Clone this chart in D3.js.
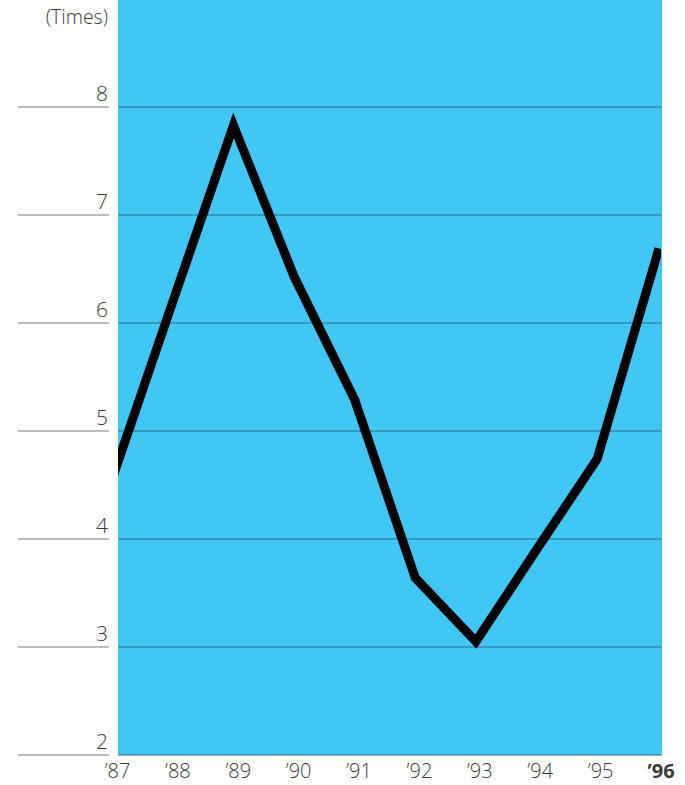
<!DOCTYPE html>
<html>
<head>
<meta charset="utf-8">
<script src="https://cdn.jsdelivr.net/npm/d3@7"></script>
<style>
  html, body { margin: 0; padding: 0; background: #fff; }
  svg { display: block; }
  text { font-family: "Open Sans", "Noto Sans", sans-serif; fill: #3a3a3a; }
</style>
</head>
<body>
<svg id="chart" width="685" height="785"></svg>
<script>
// Interest coverage (times), fiscal years '87–'96
const years = ["'87", "'88", "'89", "'90", "'91", "'92", "'93", "'94", "'95", "'96"];
const values = [4.56, 6.2, 7.83, 6.43, 5.29, 3.64, 3.05, 3.9, 4.74, 6.65];
const yTicks = [2, 3, 4, 5, 6, 7, 8];
const unitLabel = "(Times)";

const svg = d3.select("#chart");
const plotLeft = 118, plotRight = 662, plotTop = 0, plotBottom = 755;

// Line vertices run a little wider than the panel; labels sit under the panel
const x = d3.scalePoint().domain(years).range([112.3, 657.7]);
const xLabel = d3.scalePoint().domain(years).range([117.5, 661]);
const y = d3.scaleLinear().domain([2, 8]).range([plotBottom, 107]);

// Blue panel
svg.append("rect")
  .attr("x", plotLeft).attr("y", plotTop)
  .attr("width", plotRight - plotLeft).attr("height", plotBottom - plotTop)
  .attr("fill", "#40c7f4");

// Gridlines: grey stubs beside the labels, darker lines across the panel
const grid = svg.append("g");
yTicks.forEach(t => {
  grid.append("line")
    .attr("x1", 18).attr("x2", 109)
    .attr("y1", y(t)).attr("y2", y(t))
    .attr("stroke", "#7a7a7a").attr("stroke-width", 1.2);
  grid.append("line")
    .attr("x1", plotLeft).attr("x2", plotRight)
    .attr("y1", y(t)).attr("y2", y(t))
    .attr("stroke", "#2f6f88").attr("stroke-width", 1.2);
});

// Y tick labels sit just above their gridlines
svg.append("g").selectAll("text")
  .data(yTicks)
  .join("text")
  .attr("x", 108)
  .attr("y", d => y(d) - 6)
  .attr("text-anchor", "end")
  .attr("font-size", 21)
  .attr("font-weight", 300)
  .text(d => d);

svg.append("text")
  .attr("x", 108).attr("y", 24)
  .attr("text-anchor", "end")
  .attr("font-size", 19.5)
  .attr("font-weight", 300)
  .text(unitLabel);

// X labels; the latest year is set in bold
svg.append("g").selectAll("text")
  .data(years)
  .join("text")
  .attr("x", d => xLabel(d))
  .attr("y", 778)
  .attr("text-anchor", "middle")
  .attr("font-size", 20)
  .attr("font-weight", d => d === "'96" ? 700 : 300)
  .attr("fill", d => d === "'96" ? "#111" : "#3a3a3a")
  .text(d => d.replace("'", "\u2019"));

// Line, clipped to the panel
svg.append("clipPath").attr("id", "panel")
  .append("rect")
  .attr("x", plotLeft).attr("y", plotTop)
  .attr("width", plotRight - plotLeft - 1).attr("height", plotBottom - plotTop);

const line = d3.line()
  .x((d, i) => x(years[i]))
  .y(d => y(d));

svg.append("path")
  .datum(values)
  .attr("clip-path", "url(#panel)")
  .attr("d", line)
  .attr("fill", "none")
  .attr("stroke", "#000")
  .attr("stroke-width", 9)
  .attr("stroke-linecap", "square")
  .attr("stroke-linejoin", "miter")
  .attr("stroke-miterlimit", 10);
</script>
</body>
</html>
